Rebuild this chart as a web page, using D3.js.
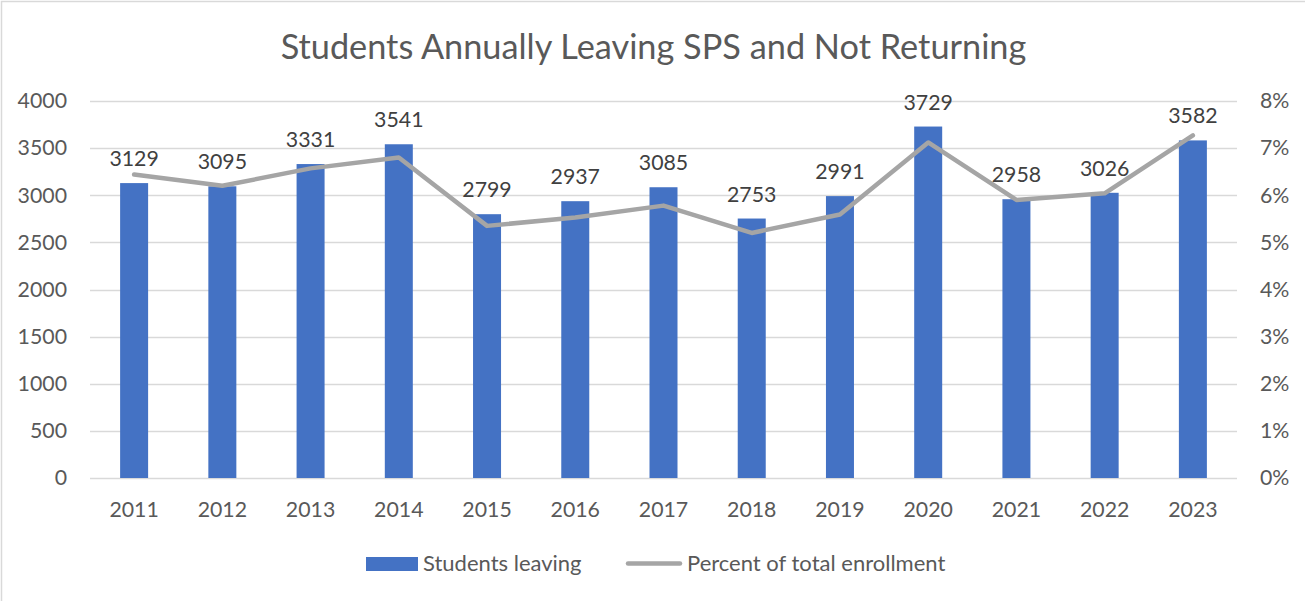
<!DOCTYPE html>
<html>
<head>
<meta charset="utf-8">
<script src="https://cdn.jsdelivr.net/npm/d3@7"></script>
<style>
  body { margin: 0; background: #fff; }
  text { font-family: Lato, "Open Sans", sans-serif; }
</style>
</head>
<body>
<div id="chart"></div>
<script>
// chart data
var years = ["2011", "2012", "2013", "2014", "2015", "2016", "2017", "2018", "2019", "2020", "2021", "2022", "2023"];
var studentsLeaving = [3129, 3095, 3331, 3541, 2799, 2937, 3085, 2753, 2991, 3729, 2958, 3026, 3582];
var pctEnrollment = [6.44, 6.2, 6.57, 6.8, 5.35, 5.53, 5.78, 5.2, 5.59, 7.12, 5.9, 6.04, 7.27];
var leftTicks = [0, 500, 1000, 1500, 2000, 2500, 3000, 3500, 4000];
var rightTicks = [0, 1, 2, 3, 4, 5, 6, 7, 8];

var width = 1305, height = 601;
var margin = {top: 101, right: 68, bottom: 123, left: 90};
var fontSize = "21.3px";

var svg = d3.select("#chart").append("svg")
    .attr("width", width)
    .attr("height", height);

// outer border
svg.append("rect")
    .attr("x", 1.5).attr("y", 1.5)
    .attr("width", width + 10).attr("height", height + 10)
    .attr("fill", "none")
    .attr("stroke", "#d9d9d9")
    .attr("stroke-width", 1.5);

var x = d3.scaleBand()
    .domain(years)
    .range([margin.left, width - margin.right]);
var yLeft = d3.scaleLinear()
    .domain([0, 4000])
    .range([height - margin.bottom, margin.top]);
var yRight = d3.scaleLinear()
    .domain([0, 8])
    .range([height - margin.bottom, margin.top]);

// title
svg.append("text")
    .attr("x", 653.5)
    .attr("y", 59)
    .attr("text-anchor", "middle")
    .style("font-size", "34.3px")
    .style("fill", "#595959")
    .text("Students Annually Leaving SPS and Not Returning");

// gridlines
svg.append("g").selectAll("line")
    .data(leftTicks)
    .enter().append("line")
    .attr("x1", margin.left)
    .attr("x2", width - margin.right)
    .attr("y1", function(d) { return Math.round(yLeft(d)) + 0.5; })
    .attr("y2", function(d) { return Math.round(yLeft(d)) + 0.5; })
    .attr("stroke", "#d9d9d9")
    .attr("stroke-width", 1.3);

// left axis
var leftAxis = svg.append("g")
    .attr("transform", "translate(" + (margin.left - 23) + ",0)")
    .call(d3.axisLeft(yLeft).tickValues(leftTicks).tickSize(0).tickPadding(0)
        .tickFormat(d3.format("d")));
leftAxis.select(".domain").remove();
leftAxis.selectAll("text")
    .style("font-size", fontSize)
    .style("font-family", "Lato, sans-serif")
    .attr("fill", "#595959");

// right axis
var rightAxis = svg.append("g")
    .attr("transform", "translate(" + (width - margin.right + 23) + ",0)")
    .call(d3.axisRight(yRight).tickValues(rightTicks).tickSize(0).tickPadding(0)
        .tickFormat(function(d) { return d + "%"; }));
rightAxis.select(".domain").remove();
rightAxis.selectAll("text")
    .style("font-size", fontSize)
    .style("font-family", "Lato, sans-serif")
    .attr("fill", "#595959");

// bottom axis
var bottomAxis = svg.append("g")
    .attr("transform", "translate(0," + (height - margin.bottom) + ")")
    .call(d3.axisBottom(x).tickSize(0).tickPadding(24));
bottomAxis.select(".domain").remove();
bottomAxis.selectAll("text")
    .style("font-size", fontSize)
    .style("font-family", "Lato, sans-serif")
    .attr("fill", "#595959");

// bars
var barW = 28;
svg.append("g").selectAll("rect")
    .data(years)
    .enter().append("rect")
    .attr("x", function(d) { return x(d) + x.bandwidth() / 2 - barW / 2; })
    .attr("y", function(d, i) { return yLeft(studentsLeaving[i]); })
    .attr("width", barW)
    .attr("height", function(d, i) { return yLeft(0) - yLeft(studentsLeaving[i]); })
    .attr("fill", "#4472c4");

// percent line
var line = d3.line()
    .x(function(d, i) { return x(years[i]) + x.bandwidth() / 2; })
    .y(function(d) { return yRight(d); });
svg.append("path")
    .datum(pctEnrollment)
    .attr("d", line)
    .attr("fill", "none")
    .attr("stroke", "#a5a5a5")
    .attr("stroke-width", 4.5)
    .attr("stroke-linejoin", "round")
    .attr("stroke-linecap", "round");

// data labels
svg.append("g").selectAll("text")
    .data(years)
    .enter().append("text")
    .attr("x", function(d) { return x(d) + x.bandwidth() / 2; })
    .attr("y", function(d, i) { return yLeft(studentsLeaving[i]) - 17; })
    .attr("text-anchor", "middle")
    .style("font-size", fontSize)
    .style("fill", "#404040")
    .text(function(d, i) { return studentsLeaving[i]; });

// legend
var legend = svg.append("g");
legend.append("rect")
    .attr("x", 366).attr("y", 557)
    .attr("width", 52).attr("height", 14)
    .attr("fill", "#4472c4");
legend.append("text")
    .attr("x", 423).attr("y", 571)
    .style("font-size", "22px")
    .style("fill", "#595959")
    .text("Students leaving");
legend.append("line")
    .attr("x1", 628).attr("x2", 680)
    .attr("y1", 563.5).attr("y2", 563.5)
    .attr("stroke", "#a5a5a5")
    .attr("stroke-width", 4.5)
    .attr("stroke-linecap", "round");
legend.append("text")
    .attr("x", 687).attr("y", 571)
    .style("font-size", "22px")
    .style("fill", "#595959")
    .text("Percent of total enrollment");
</script>
</body>
</html>
